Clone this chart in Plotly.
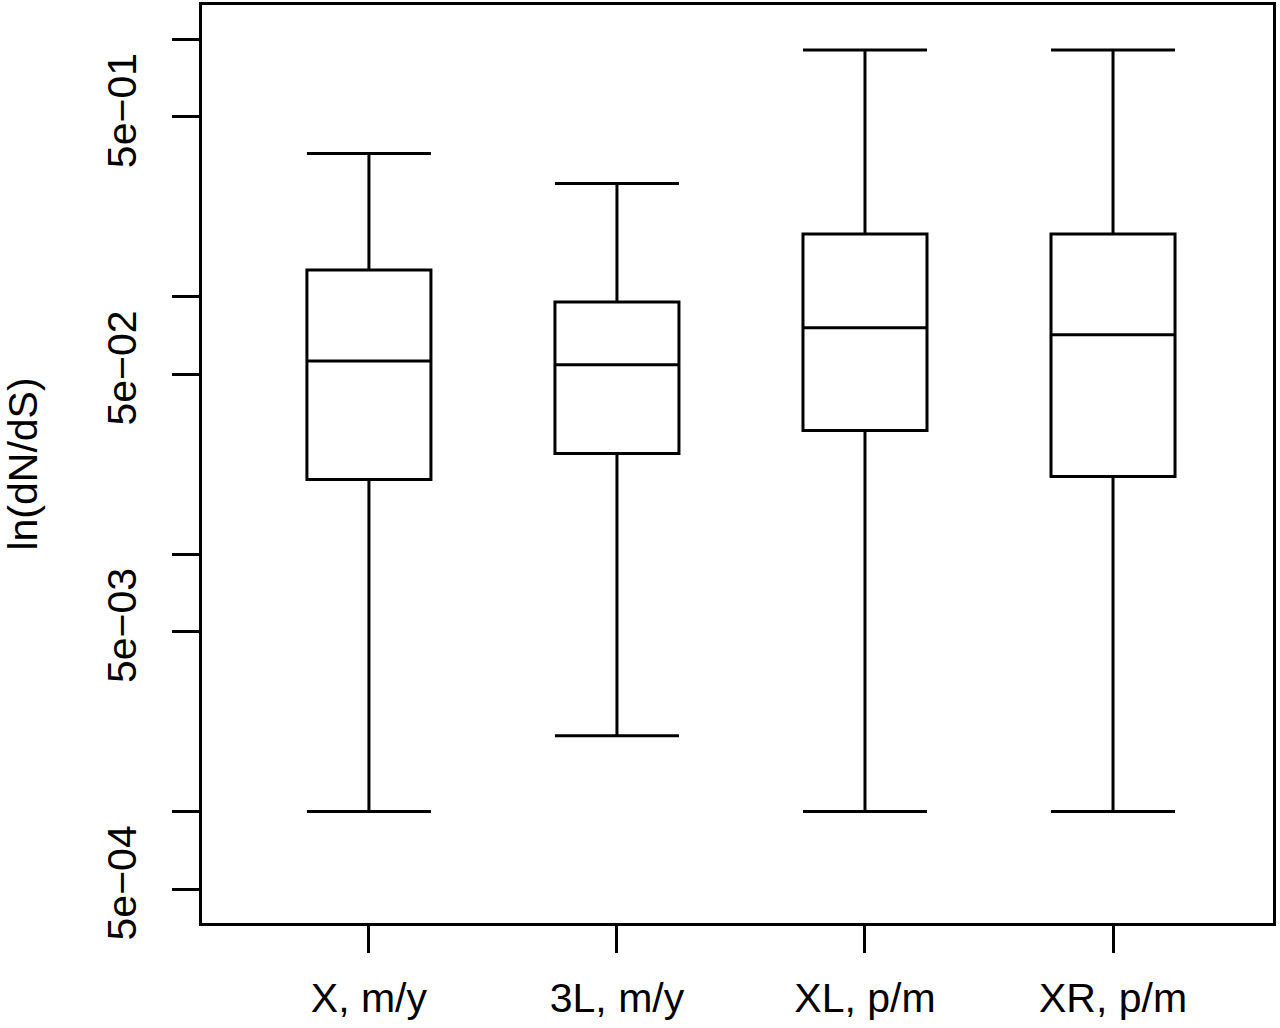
import plotly.graph_objects as go

categories = ["X, m/y", "3L, m/y", "XL, p/m", "XR, p/m"]
lower_whisker = [0.0010, 0.00197, 0.0010, 0.0010]
q1_values = [0.0195, 0.0246, 0.0302, 0.0200]
median_values = [0.0563, 0.0544, 0.0757, 0.0711]
q3_values = [0.127, 0.0953, 0.175, 0.175]
upper_whisker = [0.360, 0.275, 0.909, 0.909]

y_tick_values = [5e-4, 1e-3, 5e-3, 1e-2, 5e-2, 1e-1, 5e-1, 1.0]
y_tick_labels = ["5e\u221204", "", "5e\u221203", "", "5e\u221202", "", "5e\u221201", ""]

font_family = "Liberation Sans, Arial, Helvetica, sans-serif"

fig = go.Figure()
fig.add_trace(go.Box(
    x=categories,
    q1=q1_values,
    median=median_values,
    q3=q3_values,
    lowerfence=lower_whisker,
    upperfence=upper_whisker,
    boxpoints=False,
    fillcolor="white",
    line=dict(color="black", width=3),
    whiskerwidth=1,
    width=0.5,
    showlegend=False,
    hoverinfo="skip",
))

fig.update_layout(
    width=1280,
    height=1028,
    margin=dict(l=202, r=7, t=2, b=105),
    paper_bgcolor="white",
    plot_bgcolor="white",
    font=dict(family=font_family, size=41, color="black"),
    xaxis=dict(
        type="category",
        range=[-0.673, 3.645],
        showline=True, linecolor="black", linewidth=3, mirror=True,
        showgrid=False, zeroline=False,
        ticks="outside", ticklen=27, tickwidth=3, tickcolor="black",
        tickfont=dict(size=41),
        ticklabelstandoff=10,
    ),
    yaxis=dict(
        type="log",
        range=[-3.433, 0.133],
        showline=True, linecolor="black", linewidth=3, mirror=True,
        showgrid=False, zeroline=False,
        ticks="outside", ticklen=27, tickwidth=3, tickcolor="black",
        tickvals=y_tick_values, ticktext=y_tick_labels,
        tickangle=-90,
        tickfont=dict(size=41),
        ticklabelstandoff=20,
        title=dict(text="ln(dN/dS)", font=dict(size=41), standoff=53),
    ),
)

fig.write_html("out.html")
